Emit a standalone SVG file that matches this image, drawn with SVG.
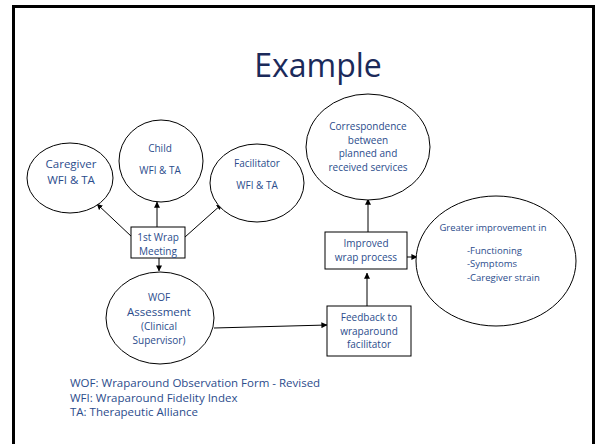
<svg xmlns="http://www.w3.org/2000/svg" width="602" height="444" viewBox="0 0 602 444">
<defs>
<marker id="ah" viewBox="0 0 8 8" refX="7.5" refY="4" markerWidth="6" markerHeight="6" markerUnits="userSpaceOnUse" orient="auto">
<path d="M0,0 L8,4 L0,8 Z" fill="#000"/>
</marker>
</defs>
<style>
.node{fill:#fff;stroke:#000;stroke-width:1}
.t{font-family:"Open Sans","Noto Sans",sans-serif;fill:#2B4C8C;text-anchor:middle}
.l{font-family:"Open Sans","Noto Sans",sans-serif;fill:#2B4C8C}
.c{stroke:#000;stroke-width:1;fill:none;marker-end:url(#ah)}
</style>
<rect x="0" y="0" width="602" height="444" fill="#fff"/>
<rect x="13.5" y="6.5" width="580" height="450" fill="none" stroke="#000" stroke-width="3"/>
<text x="318" y="77" font-family="'Open Sans','Noto Sans',sans-serif" font-size="32" fill="#1B2A5A" text-anchor="middle">Example</text>

<g id="connectors">
<line class="c" x1="132" y1="237" x2="97" y2="204"/>
<line class="c" x1="157" y1="227" x2="157" y2="202"/>
<line class="c" x1="185" y1="237" x2="222" y2="204"/>
<line class="c" x1="159" y1="258" x2="159" y2="271"/>
<line class="c" x1="214" y1="328" x2="327" y2="325"/>
<line class="c" x1="367" y1="306" x2="367" y2="273"/>
<line class="c" x1="368" y1="232" x2="368" y2="199"/>
<line class="c" x1="407" y1="257" x2="417" y2="257"/>
</g>

<g id="caregiver">
<ellipse class="node" cx="70" cy="178" rx="43" ry="35"/>
<text class="t" x="71" y="168" font-size="11.5">Caregiver</text>
<text class="t" x="71" y="184" font-size="11.5">WFI &amp; TA</text>
</g>

<g id="child">
<ellipse class="node" cx="161" cy="161" rx="42" ry="41"/>
<text class="t" x="160" y="152" font-size="10">Child</text>
<text class="t" x="160" y="174" font-size="10">WFI &amp; TA</text>
</g>

<g id="facilitator">
<ellipse class="node" cx="257" cy="183" rx="47" ry="39"/>
<text class="t" x="257" y="167" font-size="10">Facilitator</text>
<text class="t" x="257" y="189" font-size="10">WFI &amp; TA</text>
</g>

<g id="meeting">
<rect class="node" x="131" y="227" width="54" height="31"/>
<text class="t" x="158" y="241" font-size="10">1st Wrap</text>
<text class="t" x="158" y="255" font-size="10">Meeting</text>
</g>

<g id="wof">
<ellipse class="node" cx="160" cy="318" rx="54" ry="46"/>
<text class="t" x="159" y="301" font-size="10">WOF</text>
<text class="t" x="159" y="316" font-size="11.5">Assessment</text>
<text class="t" x="159" y="330" font-size="10">(Clinical</text>
<text class="t" x="159" y="344" font-size="10">Supervisor)</text>
</g>

<g id="feedback">
<rect class="node" x="327" y="306" width="84" height="50"/>
<text class="t" x="369" y="321" font-size="10">Feedback to</text>
<text class="t" x="369" y="335" font-size="10">wraparound</text>
<text class="t" x="369" y="348" font-size="10">facilitator</text>
</g>

<g id="improved">
<rect class="node" x="325" y="232" width="82" height="37"/>
<text class="t" x="366" y="247" font-size="10">Improved</text>
<text class="t" x="366" y="261" font-size="10">wrap process</text>
</g>

<g id="correspondence">
<ellipse class="node" cx="368" cy="147" rx="62" ry="53"/>
<text class="t" x="368" y="130" font-size="10">Correspondence</text>
<text class="t" x="368" y="144" font-size="10">between</text>
<text class="t" x="368" y="157" font-size="10">planned and</text>
<text class="t" x="368" y="171" font-size="10">received services</text>
</g>

<g id="greater">
<ellipse class="node" cx="496" cy="261" rx="80" ry="65"/>
<text class="t" x="493" y="231" font-size="9.5">Greater improvement in</text>
<text class="l" x="467" y="254" font-size="9.5">-Functioning</text>
<text class="l" x="467" y="267" font-size="9.5">-Symptoms</text>
<text class="l" x="467" y="281" font-size="9.5">-Caregiver strain</text>
</g>

<g id="legend">
<text class="l" x="70" y="387" font-size="11.5">WOF: Wraparound Observation Form - Revised</text>
<text class="l" x="70" y="402" font-size="11.5">WFI: Wraparound Fidelity Index</text>
<text class="l" x="70" y="416" font-size="11.5">TA: Therapeutic Alliance</text>
</g>
</svg>
